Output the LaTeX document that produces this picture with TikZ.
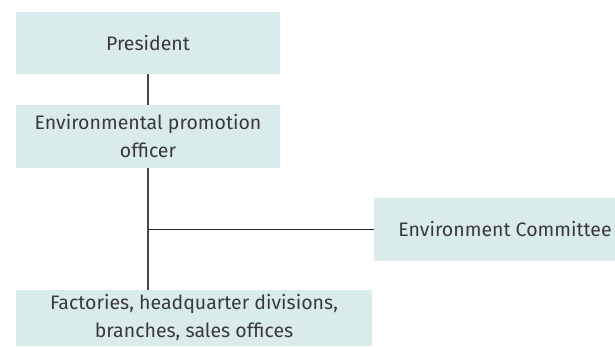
\documentclass[tikz,border=0pt]{standalone}
\usepackage{fontspec}
\setmainfont{Fira Sans}
\definecolor{boxfill}{HTML}{D9ECEB}
\definecolor{boxtext}{HTML}{3A3A3A}
\definecolor{linegray}{HTML}{4A4646}

\begin{document}
\begin{tikzpicture}[x=1pt,y=-1pt,
		box/.style={fill=boxfill,text=boxtext,align=center,inner sep=0pt,
			font=\fontsize{19.5}{28}\selectfont}]
		\useasboundingbox (0,0) rectangle (615,346);
		\node[box,minimum width=264pt,minimum height=62pt](president) at (148,43) {President};
		\node[box,minimum width=264pt,minimum height=63pt](officer) at (148,136.5) {Environmental promotion\\officer};
		\node[box,minimum width=262pt,minimum height=63pt](committee) at (505,229.5) {Environment Committee};
		\node[box,minimum width=356pt,minimum height=56pt](factories) at (194,318) {Factories, headquarter divisions,\\branches, sales offices};
		\draw[linegray,line width=1.2pt] (president)--(officer);
		\draw[linegray,line width=1.2pt] (officer.south)--(officer.south |- factories.north);
		\draw[black!85,line width=1pt] (officer.south |- committee.west)--(committee.west);
	\end{tikzpicture}
\end{document}
